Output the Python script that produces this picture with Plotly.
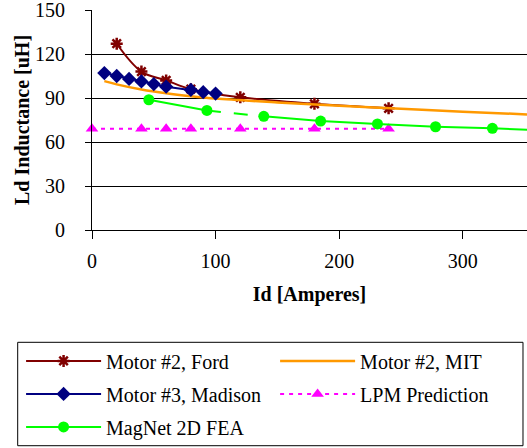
import plotly.graph_objects as go

# ---- data ----
ford_x = [20, 40, 60, 80, 120, 180, 240]
ford_y = [127, 108, 102, 96, 90.5, 86, 83]

madison_x = [10, 20, 30, 40, 50, 60, 80, 90, 100]
madison_y = [107, 105, 103, 101.3, 99.5, 97.7, 95.5, 94, 93]

mit_x = [10, 20, 40, 60, 80, 100, 150, 200, 250, 300, 352]
mit_y = [101.5, 99.3, 95.8, 93.2, 91.2, 89.6, 87.0, 84.8, 82.7, 80.7, 78.8]

lpm_x = [0, 40, 60, 80, 120, 180, 240]
lpm_y = [69, 69, 69, 69, 69, 69, 69]

magnet_x = [46, 93, 139, 185, 231, 278, 324, 370]
magnet_y = [88.8, 81.5, 77.5, 74.3, 72.3, 70.4, 69.3, 67.8]

y_ticks = [0, 30, 60, 90, 120, 150]
x_ticks = [0, 100, 200, 300]

FONT = "Liberation Serif, Times New Roman, serif"
FS = 20
FORD_C = "#800000"
MAD_C = "#000080"
MIT_C = "#FF9900"
LPM_C = "#FF00FF"
MAG_C = "#00FF00"

fig = go.Figure()

fig.add_trace(go.Scatter(
    x=ford_x, y=ford_y, name="Motor #2, Ford", mode="lines+markers",
    line=dict(color=FORD_C, width=2, shape="spline"),
    marker=dict(symbol="asterisk-open", size=10, line=dict(color=FORD_C, width=2.5)),
    legend="legend", legendgroup="ford"))

fig.add_trace(go.Scatter(
    x=mit_x, y=mit_y, name="Motor #2, MIT", mode="lines",
    line=dict(color=MIT_C, width=2.5, shape="spline"),
    legend="legend2", legendgroup="mit"))

fig.add_trace(go.Scatter(
    x=madison_x, y=madison_y, name="Motor #3, Madison", mode="lines+markers",
    line=dict(color=MAD_C, width=2),
    marker=dict(symbol="diamond", size=11, color=MAD_C),
    legend="legend", legendgroup="madison"))

fig.add_trace(go.Scatter(
    x=lpm_x, y=lpm_y, name="LPM Prediction", mode="lines+markers",
    line=dict(color=LPM_C, width=2, dash="4px,5px"),
    marker=dict(symbol="triangle-up", size=11, color=LPM_C),
    cliponaxis=False,
    legend="legend2", legendgroup="lpm"))

# MagNet: solid except the segment between 2nd and 3rd point (dashed)
mag_main_x = magnet_x[:2] + [None] + magnet_x[2:]
mag_main_y = magnet_y[:2] + [None] + magnet_y[2:]
fig.add_trace(go.Scatter(
    x=mag_main_x, y=mag_main_y, name="MagNet 2D FEA", mode="lines+markers",
    line=dict(color=MAG_C, width=2), connectgaps=False,
    marker=dict(symbol="circle", size=11, color=MAG_C),
    legend="legend", legendgroup="magnet"))
fig.add_trace(go.Scatter(
    x=magnet_x[1:3], y=magnet_y[1:3], mode="lines", showlegend=False,
    line=dict(color=MAG_C, width=2, dash="14px,13px"), hoverinfo="skip"))

fig.update_layout(
    width=527, height=448,
    margin=dict(l=92, r=0, t=10, b=218, autoexpand=False),
    paper_bgcolor="white", plot_bgcolor="white",
    font=dict(family=FONT, size=FS, color="black"),
    showlegend=True,
    legend=dict(xref="container", yref="container", x=0.04, y=0.238,
                xanchor="left", yanchor="top", itemwidth=75,
                bgcolor="rgba(0,0,0,0)", font=dict(family=FONT, size=FS),
                tracegroupgap=4),
    legend2=dict(xref="container", yref="container", x=0.522, y=0.238,
                 xanchor="left", yanchor="top", itemwidth=75,
                 bgcolor="rgba(0,0,0,0)", font=dict(family=FONT, size=FS),
                 tracegroupgap=4),
    shapes=[dict(type="rect", xref="paper", yref="paper",
                 x0=-0.1708, x1=0.9908, y0=-0.9805, y1=-0.5105,
                 line=dict(color="black", width=1), fillcolor="rgba(0,0,0,0)")],
    annotations=[dict(text="<b>Ld Inductance [uH]</b>", textangle=-90,
                      xref="paper", yref="paper", x=-0.161, y=0.5,
                      xanchor="center", yanchor="middle", showarrow=False,
                      font=dict(family=FONT, size=FS))],
)

fig.update_xaxes(
    range=[0, 352], tickvals=x_ticks, ticks="outside", ticklen=8,
    tickcolor="black", showline=True, linecolor="black", linewidth=1,
    showgrid=False, zeroline=False, ticklabelstandoff=5,
    title=dict(text="<b>Id [Amperes]</b>", font=dict(size=FS)))

fig.update_yaxes(
    range=[0, 150], tickvals=y_ticks, ticks="outside", ticklen=6,
    tickcolor="black", showline=True, linecolor="black", linewidth=1,
    showgrid=True, gridcolor="black", gridwidth=1, zeroline=False,
    ticklabelstandoff=16, ticklabeloverflow="allow")

fig.write_html("out.html")
